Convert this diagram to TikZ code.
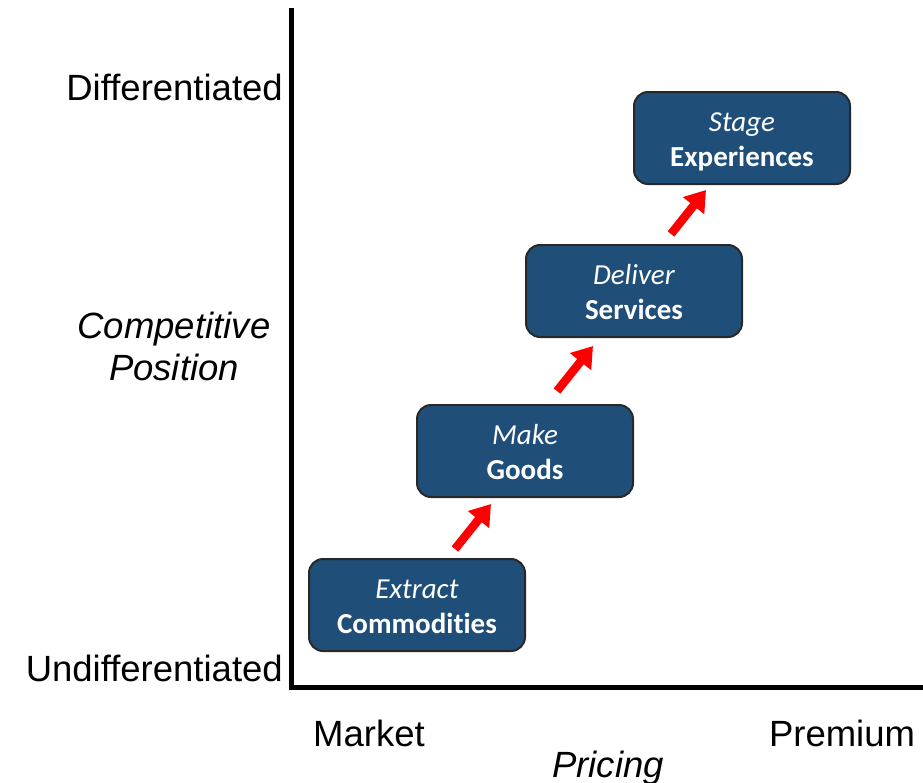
\documentclass[tikz,border=0pt]{standalone}
\usepackage{fontspec}
\setmainfont{Liberation Sans}
\newfontfamily\boxfont[Ligatures=NoCommon]{Carlito}
\usetikzlibrary{arrows.meta}
\definecolor{stagefill}{RGB}{31,78,121}
\definecolor{stageedge}{RGB}{40,40,40}
% two-line stage caption: italic verb over bold noun, set with zero size so it sits at the box centre
\newcommand\stagetext[2]{\raisebox{-10pt}[0pt][0pt]{\begin{tabular}{@{}c@{}}\textit{#1}\\\textbf{#2}\end{tabular}}}
\tikzset{
  axislabel/.style={font=\fontsize{36.5}{40}\selectfont, inner sep=0pt},
  axisitalic/.style={axislabel, font=\fontsize{36.5}{40}\selectfont\itshape},
  stagebox/.style={draw=stageedge, line width=2pt, fill=stagefill, rounded corners=14pt,
    minimum width=216pt, minimum height=92pt, text=white, inner sep=0pt,
    font=\boxfont\fontsize{29}{35}\selectfont},
  stagearrow/.style={draw=red, line width=8.5pt, -{Triangle[width=26pt,length=20pt]}}
}
\begin{document}
\begin{tikzpicture}[x=1pt,y=-1pt]
\useasboundingbox (0,0) rectangle (923,782);
% axes
\draw[line width=5pt] (291,8) -- (291,687) -- (923,687);
% axis labels
\node[axislabel, anchor=base east] (ydiff) at (283,100) {Differentiated};
\node[axislabel, anchor=base east] (yundiff) at (283,681) {Undifferentiated};
\node[axisitalic, anchor=base] (ycomp) at (174,338) {Competitive};
\node[axisitalic, anchor=base] (ypos) at (174,380) {Position};
\node[axislabel, anchor=base] (xmarket) at (369,746) {Market};
\node[axislabel, anchor=base] (xpremium) at (842,746) {Premium};
\node[axisitalic, anchor=base] (xprice) at (608,777) {Pricing};
% stages
\node[stagebox] (extract) at (417,605) {\stagetext{Extract}{Commodities}};
\node[stagebox] (make) at (525,451) {\stagetext{Make}{Goods}};
\node[stagebox] (deliver) at (634,291) {\stagetext{Deliver}{Services}};
\node[stagebox] (stage) at (742,138) {\stagetext{Stage}{Experiences}};
% progression arrows between consecutive stages
\draw[stagearrow] ([xshift=38pt,yshift=9pt]extract.north) -- ([xshift=-34pt,yshift=-6pt]make.south);
\draw[stagearrow] ([xshift=32pt,yshift=13pt]make.north) -- ([xshift=-41pt,yshift=-8pt]deliver.south);
\draw[stagearrow] ([xshift=37pt,yshift=10pt]deliver.north) -- ([xshift=-36pt,yshift=-5pt]stage.south);
\end{tikzpicture}
\end{document}
